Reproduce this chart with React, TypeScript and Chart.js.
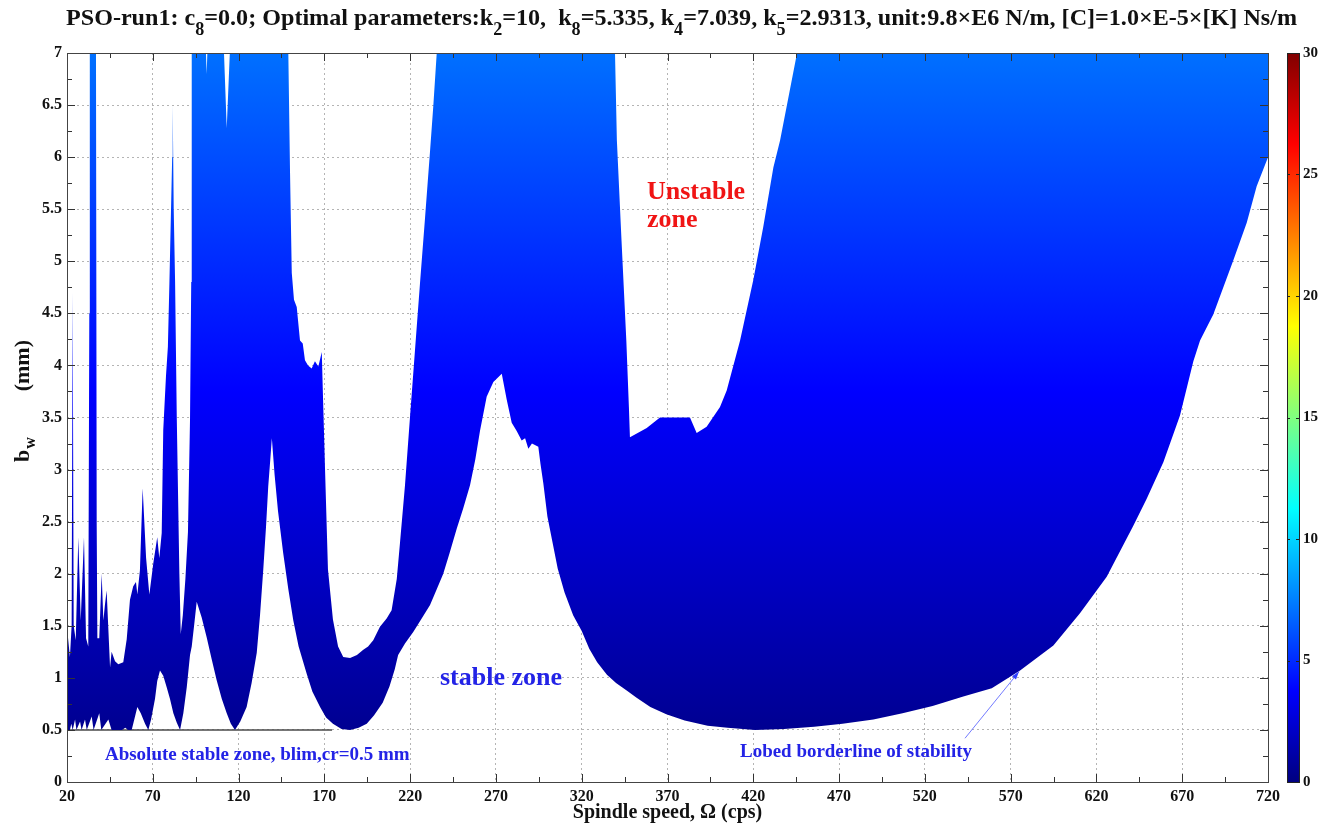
import React, { useEffect, useRef } from "react";
import { Chart, registerables } from "chart.js";

Chart.register(...registerables);

// ---- Axis ranges / ticks ----
const speedMin = 20;
const speedMax = 720;
const speedStep = 50;
const depthMin = 0;
const depthMax = 7;
const depthStep = 0.5;
const colorMin = 0;
const colorMax = 30;
const colorStep = 5;

// ---- Lobed borderline of stability (lower edge of the coloured band) ----
const lobeSpeed = [
  20, 21.7, 22.5, 23.3, 24.7, 25.5, 27.6, 28.5, 30.5, 31.5, 34.4, 35.5, 38.8, 40, 44.1, 46, 52, 54, 55.5, 57.7,
  59.5, 61, 63, 65.5, 67.4, 69, 71.3, 72.6, 74.2, 76.1, 78.1, 80, 82, 84, 85.9, 87.8, 89.8, 91.7, 92.7, 94.2,
  95.6, 98.5, 101.4, 104.3, 107.2, 110.2, 113.1, 115.5, 117.9, 121, 124.7, 127.6, 130.6, 132.5, 134.4, 136,
  137.3, 138.5, 139.4, 141, 143, 146, 149, 151.9, 155, 159.7, 163, 167.5, 171, 175, 180, 185, 190, 194.7, 199,
  204, 208, 211, 213, 217, 221.8, 226, 231.6, 235.5, 239.3, 243, 247.1, 251, 254.9, 258, 260.7, 264.6, 268.5,
  273.4, 276.3, 279.2, 282.1, 285, 287, 288.9, 291, 294.7, 296, 297.6, 300, 303, 306, 310, 315, 320, 324.4,
  329, 334.7, 340, 346, 352, 360, 369.3, 380, 393.4, 405, 421, 438, 455.5, 472, 490, 507, 524.5, 542.4, 559,
  575.5, 594.9, 610.4, 626, 641.5, 649.3, 659, 668.7, 676.5, 680.4, 688.1, 699.8, 707.6, 713.4, 720,
];
const lobeDepth = [
  0.5, 0.5, 0.56, 0.5, 0.6, 0.5, 0.58, 0.5, 0.6, 0.5, 0.63, 0.5, 0.66, 0.5, 0.6, 0.5, 0.5, 0.52, 0.5, 0.5,
  0.62, 0.72, 0.66, 0.56, 0.5, 0.6, 0.8, 0.97, 1.07, 1.02, 0.91, 0.8, 0.66, 0.57, 0.5, 0.66, 0.91, 1.22, 1.3, 1.52,
  1.73, 1.58, 1.39, 1.18, 0.98, 0.8, 0.66, 0.56, 0.5, 0.58, 0.72, 0.95, 1.24, 1.6, 2.04, 2.45,
  2.84, 3.1, 3.3, 2.95, 2.6, 2.2, 1.85, 1.55, 1.3, 1.04, 0.87, 0.72, 0.62, 0.56, 0.51, 0.5, 0.52, 0.56, 0.64,
  0.76, 0.92, 1.08, 1.22, 1.33, 1.44, 1.55, 1.7, 1.85, 2.0, 2.2, 2.43, 2.63, 2.85, 3.1, 3.37, 3.7, 3.84,
  3.92, 3.67, 3.45, 3.37, 3.28, 3.3, 3.2, 3.25, 3.22, 3.05, 2.87, 2.55, 2.3, 2.05, 1.82, 1.6, 1.45, 1.28,
  1.15, 1.03, 0.95, 0.88, 0.81, 0.72, 0.65, 0.59, 0.54, 0.52, 0.5, 0.51, 0.53, 0.56, 0.6, 0.66, 0.73, 0.82, 0.9,
  1.07, 1.31, 1.62, 1.97, 2.46, 2.72, 3.07, 3.52, 4.04, 4.24, 4.49, 5.01, 5.37, 5.72, 6.0,
];

// ---- Upper edge of the coloured (unstable) band ----
const edgeSpeed = [
  20, 20.5, 21.7, 22.7, 23.3, 23.9, 25.1, 26.6, 28, 29.9, 31.1, 32.4, 33.0, 33.3, 36.9, 37.3, 37.7, 38.8, 40.2,
  41.2, 42.1, 43.1, 45.1, 46, 48, 49.9, 52.8, 54.8, 56.7, 58.6, 60.2, 61, 62.5, 64.1, 66.1, 68, 70.3, 72.6,
  73.8, 75.2, 76.1, 77.7, 78.8, 79.7, 81.3, 81.6, 82.2, 83, 84, 85.5, 86.3, 87.5, 89, 90.5, 91.7, 92.4, 92.7,
  101.0, 101.4, 101.8, 111.5, 113.1, 114.9, 149, 150, 151, 152.3, 153.9, 155.8, 157.4, 158.7, 160.5, 162.6,
  164.5, 166.5, 168.5, 169.1, 170.4, 172.1, 175, 178, 181, 185, 189, 192.7, 195.5, 198.5, 202.4, 206.3, 209.2,
  212.2, 214.1, 217, 219.9, 222.8, 225.7, 228.7, 231.6, 233.5, 235.5, 339.4, 340.5, 343.2, 346, 347.5, 348.1,
  357.9, 365.6, 383.1, 387, 392.8, 400.6, 404.5, 412.3, 420, 425.8, 431.7, 435.6, 445.5, 720,
];
const edgeDepth = [
  4.0, 1.4, 1.2, 1.5, 4.7, 1.5, 1.36, 2.35, 1.55, 2.35, 1.38, 1.3, 4.5, 7, 7, 2.5, 1.38, 1.38, 2.0,
  1.55, 1.7, 1.84, 1.1, 1.25, 1.16, 1.13, 1.15, 1.37, 1.75, 1.88, 1.92, 1.8, 2.03, 2.82, 2.15, 1.8, 2.1, 2.35,
  2.15, 2.39, 3.38, 3.9, 4.18, 4.8, 6.0, 6.5, 5.5, 4.8, 3.48, 2.0, 1.42, 1.6, 1.95, 2.4, 3.48, 4.8, 7,
  7, 6.8, 7, 7, 6.28, 7, 7, 5.85, 4.89, 4.63, 4.56, 4.24, 4.21, 4.05, 4.0, 3.97,
  4.04, 3.99, 4.13, 3.76, 3.0, 2.04, 1.56, 1.3, 1.2, 1.19, 1.22, 1.27, 1.3, 1.36, 1.49, 1.57, 1.65,
  1.95, 2.3, 2.85, 3.5, 4.14, 4.78, 5.42, 6.06, 6.49, 7, 7, 6.16, 5.2, 4.24, 3.6, 3.31,
  3.4, 3.5, 3.5, 3.35, 3.41, 3.6, 3.76, 4.24, 4.82, 5.33, 5.9, 6.16, 7, 7,
];

// ---- Absolute stability limit line ----
const absLimitSpeed = [20, 174.5];
const absLimitDepth = [0.5, 0.5];

// ---- Annotation texts ----
const titleParts: [string, boolean][] = [
  ["PSO-run1: c", false], ["8", true], ["=0.0; Optimal parameters:k", false], ["2", true],
  ["=10,  k", false], ["8", true], ["=5.335, k", false], ["4", true], ["=7.039, k", false], ["5", true],
  ["=2.9313, unit:9.8×E6 N/m, [C]=1.0×E-5×[K] Ns/m", false],
];
const notes = [
  { text: "Unstable", x: 358, y: 5.6, color: "#f01414", size: 26, w: 101 },
  { text: "zone", x: 358, y: 5.33, color: "#f01414", size: 26, w: 51 },
  { text: "stable zone", x: 237.4, y: 0.93, color: "#2323e6", size: 26, w: 127 },
  { text: "Absolute stable zone, blim,cr=0.5 mm", x: 42.1, y: 0.21, color: "#2323e6", size: 19, w: 305 },
  { text: "Lobed borderline of stability", x: 412.3, y: 0.24, color: "#2323e6", size: 19, w: 232 },
];
const arrowFrom = [543.4, 0.42];
const arrowTo = [574.9, 1.06];

const FONT = '"Liberation Serif", "Times New Roman", serif';

function pts(xs: number[], ys: number[]) {
  return xs.map((x, i) => ({ x, y: ys[i] }));
}

const decor = {
  id: "decor",
  afterDatasetsDraw(chart: any) {
    const { ctx, chartArea: a, scales } = chart;
    const xs = scales.x, ys = scales.y, cb = scales.cb;
    ctx.save();
    // inward ticks
    ctx.strokeStyle = "#333";
    ctx.lineWidth = 1;
    ctx.beginPath();
    for (let v = speedMin; v <= speedMax + 0.01; v += speedStep / 2) {
      const major = Math.abs(((v - speedMin) / speedStep) % 1) < 1e-6;
      const L = major ? 8 : 5;
      const p = Math.round(xs.getPixelForValue(v)) + 0.5;
      ctx.moveTo(p, a.bottom); ctx.lineTo(p, a.bottom - L);
      ctx.moveTo(p, a.top); ctx.lineTo(p, a.top + L);
    }
    for (let v = depthMin; v <= depthMax + 0.01; v += depthStep / 2) {
      const major = Math.abs((v / depthStep) % 1) < 1e-6;
      const L = major ? 8 : 5;
      const p = Math.round(ys.getPixelForValue(v)) + 0.5;
      ctx.moveTo(a.left, p); ctx.lineTo(a.left + L, p);
      ctx.moveTo(a.right, p); ctx.lineTo(a.right - L, p);
    }
    ctx.stroke();
    // box
    ctx.strokeStyle = "#444";
    ctx.strokeRect(Math.round(a.left) + 0.5, Math.round(a.top) + 0.5, Math.round(a.right - a.left), Math.round(a.bottom - a.top));

    // colour bar
    const top = cb.getPixelForValue(colorMax), bot = cb.getPixelForValue(colorMin);
    const bx = Math.round(a.right) + 19, bw = 12;
    const g = ctx.createLinearGradient(0, bot, 0, top);
    g.addColorStop(0, "#000080");
    g.addColorStop(0.125, "#0000ff");
    g.addColorStop(0.375, "#00ffff");
    g.addColorStop(0.625, "#ffff00");
    g.addColorStop(0.875, "#ff0000");
    g.addColorStop(1, "#800000");
    ctx.fillStyle = g;
    ctx.fillRect(bx, top, bw, bot - top);
    ctx.strokeStyle = "#222";
    ctx.strokeRect(bx + 0.5, Math.round(top) + 0.5, bw, Math.round(bot - top));
    ctx.beginPath();
    for (let v = colorMin + colorStep; v < colorMax; v += colorStep) {
      const p = Math.round(cb.getPixelForValue(v)) + 0.5;
      ctx.moveTo(bx, p); ctx.lineTo(bx + 3, p);
      ctx.moveTo(bx + bw - 3, p); ctx.lineTo(bx + bw, p);
    }
    ctx.stroke();

    // annotation texts
    ctx.textBaseline = "alphabetic";
    ctx.textAlign = "left";
    for (const n of notes) {
      ctx.font = `bold ${n.size}px ${FONT}`;
      ctx.fillStyle = n.color;
      ctx.fillText(n.text, xs.getPixelForValue(n.x), ys.getPixelForValue(n.y), n.w);
    }
    // arrow
    const x0 = xs.getPixelForValue(arrowFrom[0]), y0 = ys.getPixelForValue(arrowFrom[1]);
    const x1 = xs.getPixelForValue(arrowTo[0]), y1 = ys.getPixelForValue(arrowTo[1]);
    ctx.strokeStyle = "rgba(90,100,255,0.85)";
    ctx.lineWidth = 1;
    ctx.beginPath(); ctx.moveTo(x0, y0); ctx.lineTo(x1, y1); ctx.stroke();
    const ang = Math.atan2(y1 - y0, x1 - x0);
    ctx.fillStyle = "#3040ff";
    ctx.beginPath();
    ctx.moveTo(x1, y1);
    ctx.lineTo(x1 - 8 * Math.cos(ang) + 2.5 * Math.sin(ang), y1 - 8 * Math.sin(ang) - 2.5 * Math.cos(ang));
    ctx.lineTo(x1 - 8 * Math.cos(ang) - 2.5 * Math.sin(ang), y1 - 8 * Math.sin(ang) + 2.5 * Math.cos(ang));
    ctx.closePath(); ctx.fill();
    ctx.restore();
  },
  afterDraw(chart: any) {
    const { ctx } = chart;
    ctx.save();
    ctx.fillStyle = "#111";
    ctx.textBaseline = "alphabetic";
    ctx.textAlign = "left";
    // title with subscripts
    const mainF = `bold 24px ${FONT}`, subF = `bold 18px ${FONT}`;
    let total = 0;
    for (const [t, s] of titleParts) { ctx.font = s ? subF : mainF; total += ctx.measureText(t).width; }
    const target = 1231;
    const k = target / total;
    ctx.translate(66, 0);
    ctx.scale(k, 1);
    let cx = 0;
    for (const [t, s] of titleParts) {
      ctx.font = s ? subF : mainF;
      ctx.fillText(t, cx, s ? 35 : 25);
      cx += ctx.measureText(t).width;
    }
    ctx.setTransform(1, 0, 0, 1, 0, 0);
    // y axis title b_w (mm)
    ctx.translate(29, 462);
    ctx.rotate(-Math.PI / 2);
    ctx.font = `bold 22px ${FONT}`;
    ctx.fillText("b", 0, 0);
    const bw = ctx.measureText("b").width;
    ctx.font = `bold 16px ${FONT}`;
    ctx.fillText("w", bw + 1, 6);
    ctx.font = `bold 22px ${FONT}`;
    ctx.textAlign = "right";
    ctx.fillText("(mm)", 462 - 340, 0);
    ctx.restore();
  },
};

export default function App() {
  const ref = useRef<HTMLCanvasElement>(null);
  useEffect(() => {
    const tickFont = { family: FONT, size: 16, weight: "bold" as const };
    const chart = new Chart(ref.current!, {
      type: "line",
      data: {
        datasets: [
          {
            label: "lobe",
            data: pts(lobeSpeed, lobeDepth),
            borderWidth: 0,
            pointRadius: 0,
            fill: false,
          },
          {
            label: "edge",
            data: pts(edgeSpeed, edgeDepth),
            borderWidth: 0,
            pointRadius: 0,
            fill: "-1",
            backgroundColor: (c: any) => {
              const ch = c.chart;
              const { ctx, chartArea, scales } = ch;
              if (!chartArea || !scales.y) return "rgb(0,0,220)";
              const y0 = scales.y.getPixelForValue(0);
              const y7 = scales.y.getPixelForValue(7);
              const g = ctx.createLinearGradient(0, y0, 0, y7);
              g.addColorStop(0, "rgb(0,0,128)");
              g.addColorStop(3.75 / 7, "rgb(0,0,255)");
              g.addColorStop(1, "rgb(0,112,255)");
              return g;
            },
          },
          {
            label: "abs",
            data: pts(absLimitSpeed, absLimitDepth),
            borderColor: "#4a4a4a",
            borderWidth: 1.5,
            pointRadius: 0,
            fill: false,
          },
        ],
      },
      options: {
        animation: false,
        responsive: false,
        layout: { padding: { top: 53, left: 0, right: 0, bottom: 0 } },
        plugins: { legend: { display: false }, tooltip: { enabled: false }, title: { display: false } },
        elements: { line: { tension: 0 } },
        scales: {
          x: {
            type: "linear",
            min: speedMin,
            max: speedMax,
            ticks: {
              stepSize: speedStep,
              autoSkip: false,
              maxRotation: 0,
              padding: 5,
              color: "#111",
              font: tickFont,
              callback: (v: any) => String(v),
            },
            grid: { color: "#b4b4b4", lineWidth: 1, drawTicks: false },
            border: { display: false, dash: [2, 3] },
            title: {
              display: true,
              text: "Spindle speed, Ω (cps)",
              color: "#111",
              font: { family: FONT, size: 20, weight: "bold" },
              padding: { top: 0, bottom: 1 },
            },
            afterFit: (s: any) => { s.height = 44; },
          },
          y: {
            type: "linear",
            min: depthMin,
            max: depthMax,
            ticks: {
              stepSize: depthStep,
              padding: 5,
              color: "#111",
              font: tickFont,
              callback: (v: any) => String(Number(v)),
            },
            grid: { color: "#b4b4b4", lineWidth: 1, drawTicks: false },
            border: { display: false, dash: [2, 3] },
            afterFit: (s: any) => { s.width = 67; },
          },
          cb: {
            type: "linear",
            position: "right",
            min: colorMin,
            max: colorMax,
            ticks: {
              stepSize: colorStep,
              padding: 35,
              color: "#111",
              font: { family: FONT, size: 15, weight: "bold" },
              callback: (v: any) => String(v),
            },
            grid: { display: false, drawTicks: false, drawOnChartArea: false },
            border: { display: false },
            afterFit: (s: any) => { s.width = 68; },
          },
        },
      },
      plugins: [decor],
    });
    return () => chart.destroy();
  }, []);
  return (
    <div style={{ position: "fixed", left: 0, top: 0, width: 1336, height: 826, background: "#fff", overflow: "hidden" }}>
      <canvas ref={ref} width={1336} height={826} style={{ display: "block" }} />
    </div>
  );
}
